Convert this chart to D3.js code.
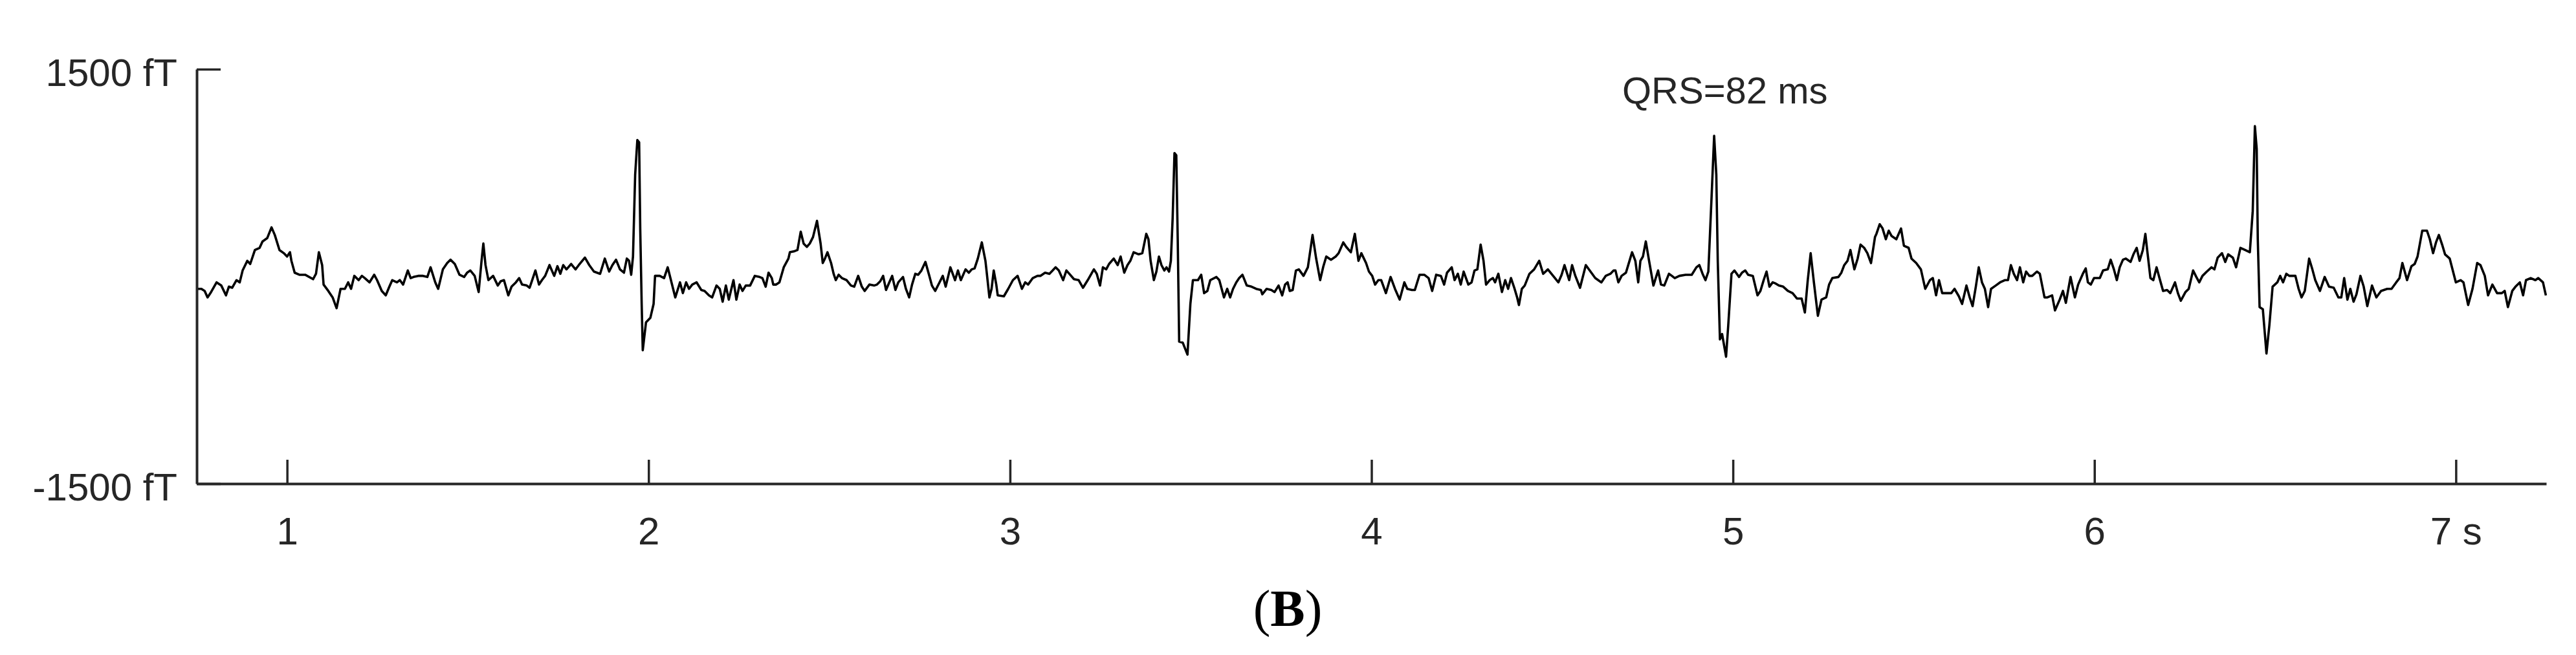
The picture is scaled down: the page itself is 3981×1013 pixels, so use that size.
<!DOCTYPE html>
<html>
<head>
<meta charset="utf-8">
<script src="https://cdn.jsdelivr.net/npm/d3@7"></script>
<style>
  html, body { margin: 0; padding: 0; background: #ffffff; }
  svg { display: block; }
</style>
</head>
<body>
<svg id="chart" width="3981" height="1013"></svg>
<script>
// ---- data (time in s, magnetic field in fT) ----
const xTicks = [1, 2, 3, 4, 5, 6, 7];
const xTickLabels = ["1", "2", "3", "4", "5", "6", "7 s"];
const yTicks = [-1500, 1500];
const yTickLabels = ["-1500 fT", "1500 fT"];
const annotationText = "QRS=82 ms";
const panelLabel = "B";

const sampleTimes = [
0.750,0.763,0.772,0.780,0.788,0.805,0.818,0.831,0.839,0.848,0.860,0.869,0.877,0.890,0.898,0.911,0.924,0.932,0.945,0.957,0.966,0.979,0.991,1.000,1.008,1.012,1.021,1.034,1.050,1.072,1.080,1.088,1.097,1.101,1.114,1.126,1.137,1.148,1.160,1.169,1.177,1.186,1.198,1.207,1.215,1.228,1.241,1.249,1.262,1.273,1.283,1.291,1.304,1.312,1.321,1.334,1.342,1.350,1.363,1.376,1.388,1.397,1.410,1.418,1.431,1.443,1.452,1.464,1.477,1.490,1.498,1.507,1.519,1.530,1.538,1.543,1.549,1.557,1.570,1.583,1.591,1.600,1.612,1.621,1.633,1.642,1.650,1.663,1.671,1.680,1.687,1.697,1.705,1.714,1.726,1.739,1.748,1.756,1.764,1.773,1.786,1.798,1.807,1.824,1.836,1.849,1.866,1.879,1.891,1.900,1.910,1.921,1.932,1.940,1.946,1.952,1.957,1.963,1.969,1.974,1.977,1.981,1.984,1.993,2.005,2.014,2.018,2.031,2.043,
2.053,2.074,2.087,2.095,2.104,2.112,2.121,2.133,2.146,2.155,2.167,2.176,2.188,2.197,2.205,2.214,2.222,2.235,2.243,2.252,2.260,2.269,2.281,2.294,2.307,2.315,2.324,2.332,2.341,2.345,2.353,2.362,2.374,2.387,2.391,2.404,2.412,2.421,2.429,2.438,2.446,2.455,2.466,2.476,2.482,2.488,2.495,2.505,2.512,2.518,2.526,2.535,2.548,2.560,2.569,2.580,2.590,2.598,2.611,2.624,2.632,2.641,2.649,2.657,2.666,2.674,2.683,2.691,2.704,2.712,2.721,2.729,2.738,2.746,2.755,2.766,2.776,2.784,2.793,2.805,2.814,2.822,2.835,2.848,2.856,2.864,2.877,2.886,2.894,2.902,2.911,2.922,2.932,2.936,2.943,2.949,2.955,2.962,2.966,2.983,2.995,3.008,3.021,3.033,3.042,3.050,3.063,3.076,3.084,3.097,3.109,3.118,3.126,3.135,3.147,3.156,3.164,3.177,3.190,3.202,3.215,3.232,3.240,3.249,3.257,3.266,3.274,3.287,3.298,3.306,3.316,3.325,3.333,3.342,
3.356,3.366,3.377,3.383,3.389,3.398,3.405,3.412,3.419,3.427,3.433,3.440,3.445,3.450,3.455,3.460,3.464,3.468,3.478,3.491,3.499,3.506,3.520,3.529,3.537,3.546,3.554,3.571,3.579,3.592,3.601,3.609,3.617,3.626,3.634,3.643,3.655,3.668,3.681,3.694,3.698,3.710,3.723,3.732,3.743,3.753,3.761,3.768,3.774,3.782,3.791,3.799,3.812,3.824,3.837,3.847,3.858,3.867,3.875,3.888,3.901,3.909,3.922,3.930,3.943,3.954,3.964,3.972,3.985,3.993,4.002,4.010,4.019,4.027,4.040,4.053,4.065,4.078,4.091,4.099,4.112,4.120,4.133,4.146,4.158,4.168,4.179,4.192,4.201,4.209,4.222,4.230,4.239,4.247,4.255,4.268,4.277,4.285,4.293,4.302,4.310,4.317,4.327,4.336,4.342,4.351,4.361,4.370,4.378,4.386,4.395,4.403,4.408,4.416,4.424,4.437,4.450,4.464,4.475,4.488,4.500,4.517,4.526,4.534,4.547,4.555,4.564,4.577,4.593,4.606,4.619,4.636,4.648,4.661,4.670,
4.675,4.683,4.692,4.704,4.721,4.730,4.738,4.744,4.751,4.759,4.768,4.780,4.793,4.801,4.810,4.823,4.831,4.839,4.852,4.869,4.886,4.899,4.907,4.916,4.924,4.932,4.941,4.948,4.954,4.958,4.964,4.970,4.981,4.987,4.996,5.004,5.017,5.025,5.034,5.042,5.055,5.068,5.076,5.085,5.093,5.101,5.110,5.118,5.127,5.139,5.152,5.165,5.177,5.190,5.199,5.207,5.215,5.224,5.235,5.245,5.258,5.266,5.275,5.292,5.300,5.308,5.317,5.325,5.336,5.345,5.353,5.363,5.372,5.382,5.393,5.397,5.406,5.414,5.423,5.431,5.439,5.452,5.465,5.473,5.486,5.494,5.507,5.520,5.532,5.545,5.553,5.562,5.570,5.579,5.592,5.604,5.613,5.625,5.634,5.646,5.655,5.663,5.672,5.680,5.689,5.697,5.706,5.714,5.727,5.739,5.752,5.761,5.769,5.777,5.786,5.794,5.803,5.811,5.820,5.828,5.841,5.849,5.862,5.870,5.883,5.891,5.904,5.913,5.921,5.934,5.946,5.955,5.968,5.976,
5.982,5.990,5.999,6.015,6.024,6.037,6.045,6.054,6.062,6.070,6.079,6.087,6.100,6.108,6.117,6.125,6.134,6.141,6.146,6.155,6.163,6.172,6.180,6.190,6.201,6.210,6.223,6.231,6.239,6.252,6.261,6.273,6.282,6.290,6.299,6.311,6.324,6.332,6.341,6.353,6.362,6.370,6.383,6.392,6.404,6.417,6.430,6.438,6.444,6.449,6.452,6.457,6.466,6.476,6.484,6.493,6.506,6.514,6.522,6.531,6.539,6.556,6.565,6.573,6.582,6.594,6.603,6.611,6.624,6.637,6.649,6.662,6.675,6.683,6.691,6.700,6.708,6.717,6.725,6.736,6.745,6.755,6.768,6.780,6.793,6.810,6.822,6.835,6.844,6.852,6.865,6.877,6.886,6.894,6.907,6.920,6.928,6.937,6.945,6.953,6.962,6.970,6.983,7.000,7.013,7.021,7.034,7.046,7.059,7.068,7.080,7.089,7.101,7.114,7.127,7.135,7.144,7.156,7.165,7.177,7.186,7.194,7.207,7.220,7.228,7.241,7.249
];

const sampleValues = [
-90,-90,-105,-152,-121,-43,-66,-137,-74,-82,-27,-43,43,113,90,191,207,253,277,355,300,191,168,144,175,113,27,12,12,-20,19,175,82,-59,-105,-152,-230,-90,-90,-43,-90,4,-27,4,-12,-43,12,-27,-105,-137,-74,-27,-43,-27,-59,43,-12,-4,4,4,-4,66,-43,-90,51,97,121,90,12,-4,27,43,4,-113,113,238,82,-27,4,-66,-35,-27,-137,-74,-43,-12,-59,-66,-82,-12,43,-59,-27,4,82,4,74,19,82,51,90,51,82,136,82,35,19,129,35,82,121,51,27,129,113,12,144,737,987,971,347,-199,-534,-332,-300,-199,4,4,-12,
66,-152,-43,-121,-43,-90,-59,-43,-98,-105,-137,-152,-66,-90,-183,-66,-168,-27,-168,-59,-105,-66,-66,4,-4,-12,-74,27,-12,-59,-59,-43,66,129,175,183,191,324,238,214,238,285,402,238,97,129,175,97,19,-27,12,-12,-27,-66,-74,4,-74,-105,-59,-66,-59,-35,4,-98,-43,4,-98,-43,-4,-90,-152,-59,19,12,43,105,12,-66,-105,-43,4,-74,66,-27,43,-27,51,27,51,58,129,246,113,19,-152,-90,43,-59,-137,-144,-90,-27,4,-90,-43,-59,-12,4,4,27,19,43,66,43,-27,43,19,-20,-27,-82,-27,51,19,-66,66,51,90,129,82,144,27,82,113,175,
160,168,308,269,113,-27,35,144,82,43,66,35,113,425,893,877,269,-472,-480,-566,-199,-27,-27,12,-121,-105,-27,-4,-27,-152,-90,-152,-90,-43,-12,12,-66,-74,-90,-98,-129,-90,-98,-113,-66,-137,-59,-43,-105,-98,43,51,4,66,300,129,-27,74,144,121,144,168,246,214,175,308,113,168,97,35,4,-59,-27,-27,-121,-4,-90,-168,-43,-90,-98,-98,12,12,-12,-105,12,4,-59,27,66,-27,19,-59,35,-59,-43,43,51,230,113,-59,-27,-12,-43,19,-113,-27,-90,-12,-82,-152,-207,-90,-66,19,51,113,19,51,12,-43,12,82,-27,82,4,-82,82,35,-12,-43,4,19,43,
43,-43,4,27,175,113,-43,113,144,253,113,-66,43,-59,-66,19,4,-12,4,12,12,66,82,19,-27,35,581,1018,737,113,-456,-417,-581,-355,19,43,-4,27,43,12,4,-137,-105,-27,35,-74,-43,-51,-66,-74,-105,-121,-160,-160,-261,-27,168,-43,-285,-168,-152,-59,-12,-4,27,82,113,191,51,129,230,207,168,97,285,308,378,347,269,331,292,269,347,222,207,129,97,51,-90,-27,-12,-137,-27,-121,-121,-121,-90,-144,-199,-66,-152,-215,-74,66,-43,-90,-222,-90,-66,-43,-27,-27,82,19,-27,66,-43,35,4,4,35,19,-152,-152,-137,-246,-168,-105,-191,-4,-152,-59,19,58,
-43,-59,-12,-12,43,51,121,51,-27,66,121,129,105,160,207,113,191,308,191,-12,-27,66,-12,-105,-98,-121,-43,-121,-176,-113,-90,43,-4,-43,4,35,66,51,136,168,105,160,136,66,207,191,175,472,1088,924,269,-222,-238,-558,-355,-74,-43,4,-43,19,4,4,-90,-152,-105,129,51,-27,-105,-4,-74,-82,-152,-152,-12,-168,-90,-183,-129,4,-74,-215,-66,-152,-105,-90,-90,-43,-12,97,-27,74,90,144,331,331,269,168,246,300,230,160,129,-43,-27,-43,-207,-90,97,82,4,-137,-59,-121,-121,-105,-222,-105,-74,-43,-137,-27,-12,-27,-12,-43,-137
];

// ---- layout ----
const svg = d3.select("#chart");
const W = 3981, H = 1013;
svg.append("rect").attr("width", W).attr("height", H).attr("fill", "#ffffff");

const x = d3.scaleLinear().domain([0.75, 7.25]).range([304, 3935]);
const y = d3.scaleLinear().domain([-1500, 1500]).range([748, 107]);

const axisColor = "#262626";
const fontFamily = "'Liberation Sans', Arial, Helvetica, sans-serif";

// signal trace
const pts = sampleTimes.map((t, i) => [t, sampleValues[i]]);
svg.append("path")
  .datum(pts)
  .attr("fill", "none")
  .attr("stroke", "#000000")
  .attr("stroke-width", 3.6)
  .attr("stroke-linejoin", "round")
  .attr("d", d3.line().x(d => x(d[0])).y(d => y(d[1])));

// x axis
const gx = svg.append("g")
  .attr("transform", `translate(0,${y(-1500)})`)
  .call(d3.axisBottom(x)
    .tickValues(xTicks)
    .tickFormat((d, i) => xTickLabels[i])
    .tickSizeInner(-37)
    .tickSizeOuter(0));
gx.select(".domain").attr("stroke", axisColor).attr("stroke-width", 4);
gx.selectAll(".tick line").attr("stroke", axisColor).attr("stroke-width", 3.5);
gx.selectAll(".tick text")
  .attr("fill", axisColor)
  .attr("font-family", fontFamily)
  .attr("font-size", 60)
  .attr("y", 94)
  .attr("dy", null);

// y axis
const gy = svg.append("g")
  .attr("transform", `translate(${x(0.75)},0)`)
  .call(d3.axisLeft(y)
    .tickValues(yTicks)
    .tickFormat((d, i) => yTickLabels[i])
    .tickSizeInner(-37)
    .tickSizeOuter(0)
    .tickPadding(30));
gy.select(".domain").attr("stroke", axisColor).attr("stroke-width", 4);
gy.selectAll(".tick line").attr("stroke", axisColor).attr("stroke-width", 3.5);
gy.selectAll(".tick text")
  .attr("fill", axisColor)
  .attr("font-family", fontFamily)
  .attr("font-size", 60)
  .attr("dy", "0.43em");

// annotation
svg.append("text")
  .attr("x", 2507)
  .attr("y", 160)
  .attr("fill", axisColor)
  .attr("font-family", fontFamily)
  .attr("font-size", 58)
  .text(annotationText);

// panel label (B)
const lbl = svg.append("text")
  .attr("x", 1990)
  .attr("y", 968)
  .attr("text-anchor", "middle")
  .attr("font-family", "'Liberation Serif', 'Times New Roman', serif")
  .attr("font-size", 80)
  .attr("fill", "#000000");
lbl.append("tspan").text("(");
lbl.append("tspan").attr("font-weight", "bold").text(panelLabel);
lbl.append("tspan").text(")");
</script>
</body>
</html>
